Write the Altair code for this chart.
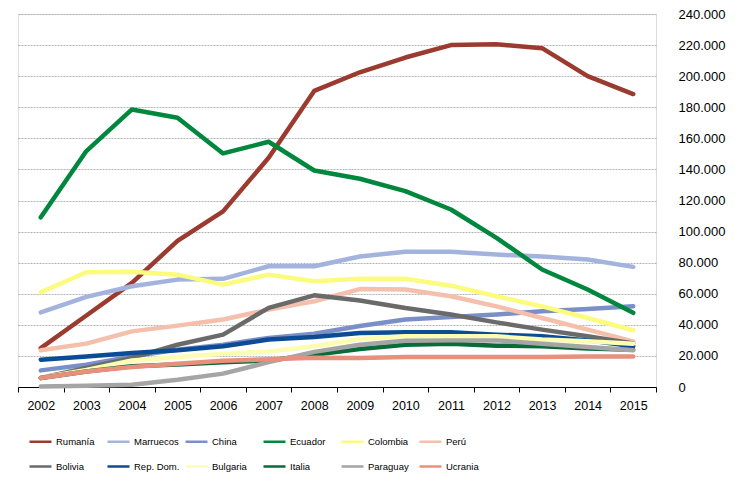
import altair as alt
import pandas as pd

years = [str(y) for y in range(2002, 2016)]

series_names = ["Rumanía", "Marruecos", "China", "Ecuador", "Colombia", "Perú",
                "Bolivia", "Rep. Dom.", "Bulgaria", "Italia", "Paraguay", "Ucrania"]
series_colors = ["#9B3A2E", "#A3B3DD", "#7A8FC7", "#00873E", "#FBFB7E", "#F4BFAB",
                 "#6A6A6A", "#0B4C95", "#FCFCB3", "#0A6B3A", "#A5A5A5", "#E8907C"]

rumania = [25000, 46000, 67000, 94000, 113000, 147500, 190500, 202500, 212000, 220000, 220500, 218000, 200000, 188500]
marruecos = [48000, 58000, 64800, 69100, 69600, 77700, 77700, 84000, 87000, 87000, 85200, 84000, 82000, 77300]
china = [10700, 14400, 19700, 24000, 27200, 31600, 34300, 39200, 43400, 45100, 46600, 48700, 50200, 51900]
ecuador = [109200, 151800, 178600, 173300, 150300, 157800, 139300, 134000, 126000, 114200, 96000, 75600, 62700, 47700]
colombia = [61000, 73800, 74200, 72300, 65900, 72300, 68000, 69600, 69600, 65200, 58400, 51900, 44400, 36500]
peru = [23600, 27900, 35800, 39500, 43400, 49800, 55200, 63000, 62700, 58400, 51900, 44400, 36900, 29400]
bolivia = [5800, 12200, 18700, 27200, 33700, 50900, 59000, 55700, 50800, 46600, 41600, 36900, 32600, 28000]
repdom = [17600, 19700, 21900, 23600, 26200, 30500, 32200, 34800, 35200, 35200, 33700, 32600, 30000, 26200]
bulgaria = [6000, 11000, 17100, 19300, 21400, 22900, 26200, 30900, 32600, 32600, 32600, 30500, 29400, 27900]
italia = [5800, 10000, 13300, 14400, 15900, 17100, 20800, 24500, 27200, 27900, 26600, 26200, 24700, 24000]
paraguay = [400, 800, 1500, 4700, 8600, 16000, 22600, 27200, 29800, 30000, 30000, 27900, 25800, 23600]
ucrania = [5800, 10000, 12900, 15000, 16900, 17800, 18800, 18700, 19300, 19300, 19300, 19300, 19700, 19700]

all_values = [rumania, marruecos, china, ecuador, colombia, peru,
              bolivia, repdom, bulgaria, italia, paraguay, ucrania]

y_ticks = list(range(0, 240001, 20000))

rows = []
for i, (name, vals) in enumerate(zip(series_names, all_values)):
    for yr, v in zip(years, vals):
        rows.append({"Año": yr, "Serie": name, "Valor": v, "orden": i})
df = pd.DataFrame(rows)

FONT = "Liberation Sans"

chart = alt.Chart(df).mark_line(strokeWidth=4.5, strokeCap="round", strokeJoin="round").encode(
    x=alt.X("Año:O", title=None,
            scale=alt.Scale(type="band", paddingInner=0, paddingOuter=0),
            axis=alt.Axis(labelAngle=0, tickBand="extent", domainColor="#000000",
                          domainWidth=1, tickColor="#000000", tickSize=5,
                          labelFontSize=12.5, labelFont=FONT, labelColor="#000000",
                          labelPadding=7, grid=False)),
    y=alt.Y("Valor:Q", title=None,
            scale=alt.Scale(domain=[0, 240000], nice=False),
            axis=alt.Axis(orient="right", values=y_ticks, domain=False, ticks=False,
                          labelAlign="left", labelPadding=22, labelFontSize=13,
                          labelFont=FONT, labelColor="#000000",
                          labelExpr="replace(format(datum.value, ','), ',', '.')",
                          gridColor="#B3B3B3", gridWidth=1, gridDash=[2, 1])),
    color=alt.Color("Serie:N",
                    scale=alt.Scale(domain=series_names, range=series_colors),
                    sort=series_names,
                    legend=alt.Legend(title=None, orient="none", legendX=10, legendY=415,
                                      direction="horizontal", columns=6,
                                      symbolType="stroke", symbolSize=484,
                                      symbolStrokeWidth=2.5, labelOffset=3,
                                      labelFont=FONT, labelFontSize=9.5,
                                      labelColor="#000000", gridAlign="all",
                                      columnPadding=0, rowPadding=7, labelLimit=80)),
    order=alt.Order("orden:Q"),
).properties(
    width=638, height=373,
    autosize=alt.AutoSizeParams(type="none"),
    padding={"left": 10, "top": 6, "right": 74, "bottom": 87},
).configure_view(stroke=None).configure(background="#FFFFFF")

chart.save("out.html", embed_options={"renderer": "svg", "actions": False})
